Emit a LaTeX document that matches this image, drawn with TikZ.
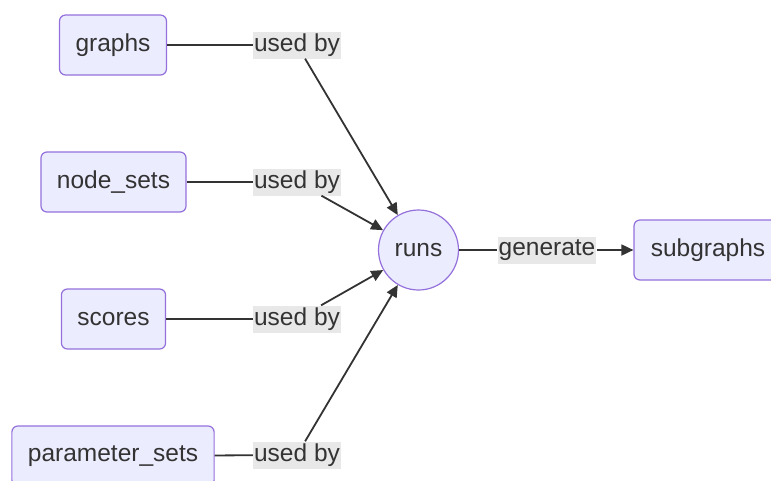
\documentclass[tikz,border=0pt]{standalone}
\usepackage{fontspec}
\setmainfont{Liberation Sans}
\usetikzlibrary{arrows.meta}
\definecolor{boxfill}{HTML}{ECECFF}
\definecolor{boxline}{HTML}{9370DB}
\definecolor{ink}{HTML}{333333}
\definecolor{lblfill}{HTML}{E8E8E8}
\tikzset{
  box/.style={draw=boxline, fill=boxfill, line width=1.2pt, rounded corners=6pt,
    minimum height=60pt, inner xsep=16pt, text=ink, font=\fontsize{24.5}{28}\selectfont},
  hub/.style={circle, draw=boxline, fill=boxfill, line width=1.2pt, minimum size=80pt,
    inner sep=0pt, text=ink, font=\fontsize{24.5}{28}\selectfont},
  lbl/.style={fill=lblfill, inner xsep=1pt, inner ysep=0pt, minimum height=27pt,
    text=ink, font=\fontsize{24.5}{28}\selectfont},
  edge/.style={draw=ink, line width=1.8pt}
}
\begin{document}
\begin{tikzpicture}[x=1pt, y=-1pt, >={Triangle[length=12pt, width=11pt]}]
\clip (0,0) rectangle (771,480);
% data sources on the left
\node[box] (graphs) at (113,45) {graphs};
\node[box] (nodesets) at (113.5,182) {node\_sets};
\node[box] (scores) at (113.5,319) {scores};
\node[box] (paramsets) at (113,456) {parameter\_sets};
% edge labels
\node[lbl] (u1) at (297,45) {used by};
\node[lbl] (u2) at (297,182) {used by};
\node[lbl] (u3) at (297,319) {used by};
\node[lbl] (u4) at (297,455) {used by};
% the runs and what they produce
\node[hub] (runs) at (418.5,250) {runs};
\node[lbl] (gen) at (547,250) {generate};
\node[box, minimum width=148pt] (subgraphs) at (708,250) {subgraphs};
\draw[edge] (graphs) -- (u1);
\draw[edge] (nodesets) -- (u2);
\draw[edge] (scores) -- (u3);
\draw[edge] (paramsets) -- (u4);
\draw[edge, ->] (u1) -- (runs);
\draw[edge, ->] (u2) -- (runs);
\draw[edge, ->] (u3) -- (runs);
\draw[edge, ->] (u4) -- (runs);
\draw[edge] (runs) -- (gen);
\draw[edge, ->] (gen) -- (subgraphs);
\end{tikzpicture}
\end{document}
